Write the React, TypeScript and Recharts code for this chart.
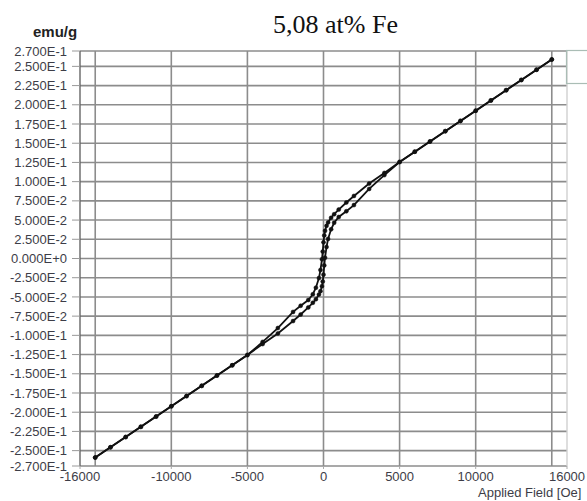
import { CartesianGrid, Line, LineChart, ReferenceLine, XAxis, YAxis } from "recharts";

// Field sweep from +15 kOe down to -15 kOe (descending branch)
const fieldDown = [
  15000, 14000, 13000, 12000, 11000, 10000, 9000, 8000, 7000, 6000, 5000, 4000, 3000, 2000, 1500, 1000, 700, 500,
  300, 200, 100, 50, 0, -50, -100, -200, -300, -500, -700, -1000, -1500, -2000, -3000, -4000, -5000, -6000, -7000,
  -8000, -9000, -10000, -11000, -12000, -13000, -14000, -15000,
];
const momentDown = [
  0.259, 0.2457, 0.2323, 0.219, 0.2057, 0.1923, 0.179, 0.1657, 0.1523, 0.139, 0.1256, 0.1113, 0.0975, 0.0814, 0.0729,
  0.0636, 0.0576, 0.053, 0.047, 0.0425, 0.036, 0.03, 0.021, 0.009, -0.001, -0.015, -0.0255, -0.038, -0.0465, -0.054,
  -0.0615, -0.0695, -0.0905, -0.1085, -0.1256, -0.139, -0.1523, -0.1657, -0.179, -0.1923, -0.2057, -0.219, -0.2323,
  -0.2457, -0.259,
];

// Return sweep from -15 kOe back up to +15 kOe (ascending branch)
const fieldUp = [
  -15000, -14000, -13000, -12000, -11000, -10000, -9000, -8000, -7000, -6000, -5000, -4000, -3000, -2000, -1500,
  -1000, -700, -500, -300, -200, -100, -50, 0, 50, 100, 200, 300, 500, 700, 1000, 1500, 2000, 3000, 4000, 5000, 6000,
  7000, 8000, 9000, 10000, 11000, 12000, 13000, 14000, 15000,
];
const momentUp = [
  -0.259, -0.2457, -0.2323, -0.219, -0.2057, -0.1923, -0.179, -0.1657, -0.1523, -0.139, -0.1256, -0.1113, -0.0975,
  -0.0814, -0.0729, -0.0636, -0.0576, -0.053, -0.047, -0.0425, -0.036, -0.03, -0.021, -0.009, 0.001, 0.015, 0.0255,
  0.038, 0.0465, 0.054, 0.0615, 0.0695, 0.0905, 0.1085, 0.1256, 0.139, 0.1523, 0.1657, 0.179, 0.1923, 0.2057, 0.219,
  0.2323, 0.2457, 0.259,
];

const xTicks = [-16000, -10000, -5000, 0, 5000, 10000, 16000];
const xGrid = [-15000, -10000, -5000, 0, 5000, 10000, 15000];
const yTicks = [
  -0.27, -0.25, -0.225, -0.2, -0.175, -0.15, -0.125, -0.1, -0.075, -0.05, -0.025, 0, 0.025, 0.05, 0.075, 0.1, 0.125,
  0.15, 0.175, 0.2, 0.225, 0.25, 0.27,
];

const downData = fieldDown.map((h, i) => ({ h, m: momentDown[i] }));
const upData = fieldUp.map((h, i) => ({ h, m: momentUp[i] }));

const sans = "'Liberation Sans', Arial, sans-serif";
const labelColor = "#3d3d47";
const gridColor = "#8c8c8c";

const sci = (v: number) => v.toExponential(3).toUpperCase();

export default function App() {
  return (
    <div style={{ position: "absolute", left: 0, top: 0, width: 587, height: 501, background: "#fff", overflow: "hidden" }}>
      <LineChart width={587} height={501} margin={{ top: 51, right: 20, bottom: 5, left: 0 }}>
        <CartesianGrid vertical={false} stroke={gridColor} strokeWidth={1.6} />
        {xGrid.map((x) => (
          <ReferenceLine key={x} x={x} stroke={gridColor} strokeWidth={1.6} />
        ))}
        <ReferenceLine x={16000} stroke="#d0d0d0" strokeWidth={1.4} />
        <XAxis
          dataKey="h"
          type="number"
          domain={[-16000, 16000]}
          ticks={xTicks}
          interval={0}
          allowDataOverflow
          height={30}
          axisLine={false}
          tickLine={{ stroke: "#aaa" }}
          tickSize={3}
          tickMargin={3}
          tick={{ fontSize: 13, fontFamily: sans, fill: labelColor }}
        />
        <YAxis
          dataKey="m"
          type="number"
          domain={[-0.27, 0.27]}
          ticks={yTicks}
          interval={0}
          allowDataOverflow
          width={80}
          axisLine={{ stroke: "#666", strokeWidth: 1.4 }}
          tickLine={{ stroke: "#999" }}
          tickSize={8}
          tickMargin={5}
          tickFormatter={sci}
          tick={{ fontSize: 13, fontFamily: sans, fill: labelColor }}
        />
        <Line
          data={downData}
          dataKey="m"
          type="linear"
          stroke="#111"
          strokeWidth={1.8}
          dot={{ r: 2, fill: "#111", stroke: "#111", strokeWidth: 0.5 }}
          activeDot={false}
          isAnimationActive={false}
        />
        <Line
          data={upData}
          dataKey="m"
          type="linear"
          stroke="#111"
          strokeWidth={1.8}
          dot={{ r: 2, fill: "#111", stroke: "#111", strokeWidth: 0.5 }}
          activeDot={false}
          isAnimationActive={false}
        />
      </LineChart>
      <svg width={587} height={501} style={{ position: "absolute", left: 0, top: 0, pointerEvents: "none" }}>
        <text x={273} y={33} fontFamily="'Liberation Serif', 'Times New Roman', serif" fontSize={26} fill="#111">
          5,08 at% Fe
        </text>
        <text x={33} y={36.5} fontFamily={sans} fontWeight="bold" fontSize={15} fill="#222">
          emu/g
        </text>
        <text x={478} y={497} fontFamily={sans} fontSize={13} fill={labelColor}>
          Applied Field [Oe]
        </text>
        <rect x={566.5} y={50.5} width={40} height={33} fill="none" stroke="#aabdb5" strokeWidth={1.2} />
      </svg>
    </div>
  );
}
